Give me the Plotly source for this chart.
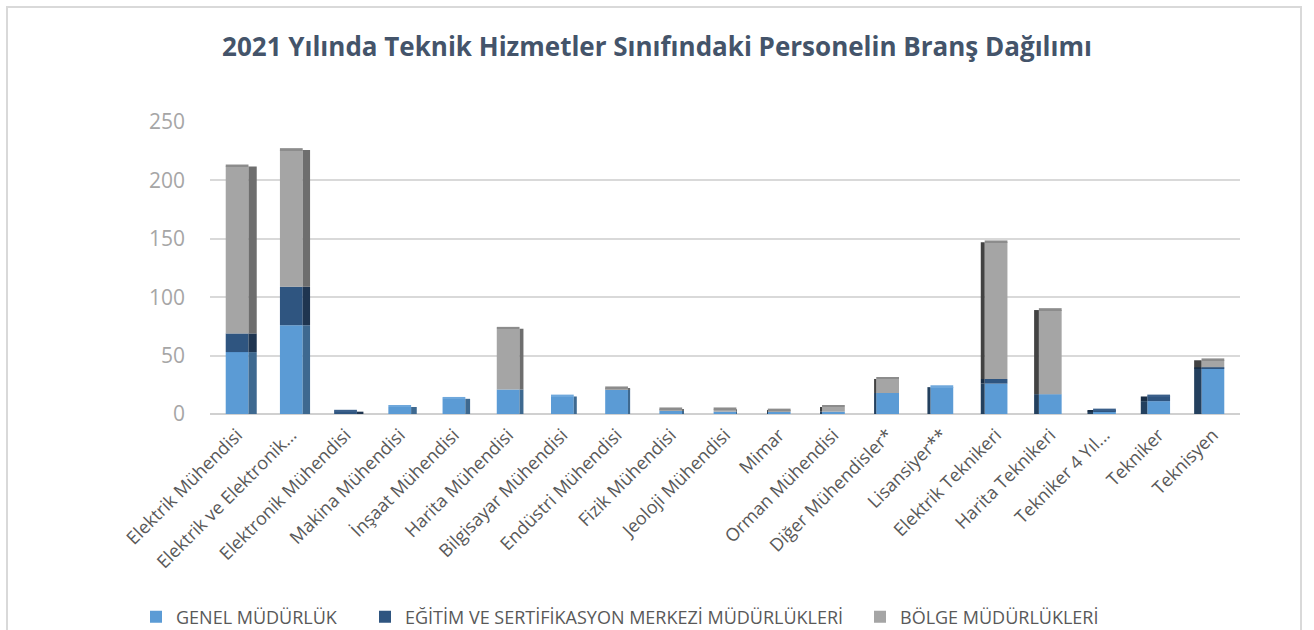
import plotly.graph_objects as go

categories = ["Elektrik Mühendisi", "Elektrik ve Elektronik...", "Elektronik Mühendisi",
              "Makina Mühendisi", "İnşaat Mühendisi", "Harita Mühendisi",
              "Bilgisayar Mühendisi", "Endüstri Mühendisi", "Fizik Mühendisi",
              "Jeoloji Mühendisi", "Mimar", "Orman Mühendisi", "Diğer Mühendisler*",
              "Lisansiyer**", "Elektrik Teknikeri", "Harita Teknikeri",
              "Tekniker 4 Yıl...", "Tekniker", "Teknisyen"]
genel = [53, 76, 0, 6, 13, 21, 15, 21, 3, 2, 2, 2, 18, 23, 26, 17, 2, 11, 39]
egitim = [16, 33, 2, 0, 0, 0, 0, 0, 0, 0, 0, 0, 0, 0, 4, 0, 1, 4, 1]
bolge = [143, 117, 0, 0, 0, 52, 0, 1, 1, 2, 1, 4, 12, 0, 117, 72, 0, 0, 6]
series_names = ["GENEL MÜDÜRLÜK", "EĞİTİM VE SERTİFİKASYON MERKEZİ MÜDÜRLÜKLERİ", "BÖLGE MÜDÜRLÜKLERİ"]

front_cols = ["#5B9BD5", "#2F5580", "#A5A5A5"]
side_right_cols = ["#3E6990", "#1F3550", "#6E6E6E"]
side_left_cols = ["#23405E", "#1A2E45", "#424242"]
top_cols = ["#6FA8DC", "#3A5F8A", "#8C8C8C"]

n = len(categories)
x = list(range(n))
W = 0.42
series = [genel, egitim, bolge]
legend_ids = ["legend", "legend2", "legend3"]

fig = go.Figure()
bases = [0] * n
for k, vals in enumerate(series):
    fig.add_trace(go.Bar(x=x, y=vals, base=list(bases), width=W, offset=-W / 2,
                         marker=dict(color=front_cols[k], line=dict(width=0)),
                         name=series_names[k], showlegend=True, legend=legend_ids[k]))
    offs, wids, cols = [], [], []
    for i in range(n):
        d = 0.016 * (i - 9.5)
        if d < 0:
            offs.append(W / 2); wids.append(-d); cols.append(side_right_cols[k])
        else:
            offs.append(-W / 2 - d); wids.append(max(d, 0.001)); cols.append(side_left_cols[k])
    fig.add_trace(go.Bar(x=x, y=vals, base=list(bases), width=wids, offset=offs,
                         marker=dict(color=cols, line=dict(width=0)),
                         showlegend=False, hoverinfo="skip"))
    bases = [b + v for b, v in zip(bases, vals)]

totals = bases
top_c = []
for i in range(n):
    if bolge[i] > 0:
        top_c.append(top_cols[2])
    elif egitim[i] > 0:
        top_c.append(top_cols[1])
    else:
        top_c.append(top_cols[0])
fig.add_trace(go.Bar(x=x, y=[1.6] * n, base=totals, width=W, offset=-W / 2,
                     marker=dict(color=top_c, line=dict(width=0)),
                     showlegend=False, hoverinfo="skip"))

L, R, T, B = 210, 1240, 122, 414


def px_x(p):
    return (p - L) / (R - L)


def px_y(p):
    return (B - p) / (B - T)


leg_font = dict(family="Open Sans", size=18, color="#595959")
legend_common = dict(orientation="h", xanchor="left", y=px_y(617), yanchor="middle",
                     font=leg_font, itemwidth=30, bgcolor="rgba(0,0,0,0)")

fig.update_layout(
    width=1314, height=630,
    margin=dict(l=L, r=1314 - R, t=T, b=630 - B, autoexpand=False),
    barmode="overlay",
    paper_bgcolor="white", plot_bgcolor="white",
    title=dict(text="<b>2021 Yılında Teknik Hizmetler Sınıfındaki Personelin Branş Dağılımı</b>",
               x=0.5, xanchor="center", y=1 - 47 / 630, yanchor="middle",
               font=dict(family="Open Sans", size=26, color="#44546A")),
    legend=dict(x=px_x(136), **legend_common),
    legend2=dict(x=px_x(365), **legend_common),
    legend3=dict(x=px_x(860), **legend_common),
    font=dict(family="Open Sans"),
)
fig.update_xaxes(tickmode="array", tickvals=x, ticktext=categories, tickangle=-45,
                 range=[-0.5, n - 0.5], showgrid=False, showline=False, ticks="",
                 ticklabelstandoff=6,
                 tickfont=dict(family="Open Sans", size=18, color="#595959"))
fig.update_yaxes(range=[0, 250], tickvals=[0, 50, 100, 150, 200, 250],
                 showgrid=True, gridcolor="#D9D9D9", gridwidth=1.5,
                 zeroline=True, zerolinecolor="#D0D0D0", zerolinewidth=2,
                 showline=False, ticks="", ticklabelstandoff=24,
                 tickfont=dict(family="Open Sans", size=21, color="#A6A6A6"))
fig.add_shape(type="rect", xref="paper", yref="paper",
              x0=px_x(7), x1=px_x(1301), y0=px_y(640), y1=px_y(7),
              line=dict(color="#D9D9D9", width=2), fillcolor="rgba(0,0,0,0)", layer="below")
fig.write_html("out.html", config={"displayModeBar": False},
               post_script="document.body.style.margin='0';document.body.style.padding='0';")
